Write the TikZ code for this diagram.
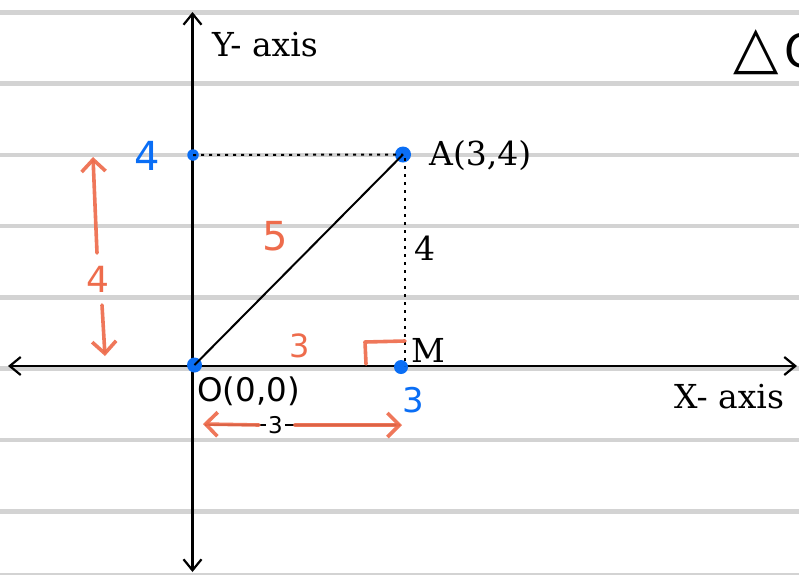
\documentclass[tikz,border=0pt]{standalone}
\usepackage{fontspec}
\setmainfont{DejaVu Serif}
\newfontfamily\sansf{DejaVu Sans}
\usetikzlibrary{arrows.meta}
\definecolor{rulegray}{RGB}{211,211,211}
\definecolor{pblue}{RGB}{10,110,245}
\definecolor{porange}{RGB}{238,108,76}
\tikzset{
  ruleline/.style={rulegray, line width=4.5pt},
  axisline/.style={black, line width=2.2pt, {Straight Barb[length=11pt,width=18pt]}-{Straight Barb[length=11pt,width=18pt]}},
  dotline/.style={black, line width=2pt, dash pattern=on 3pt off 5pt},
  bluedot/.style={circle, fill=pblue, inner sep=0pt, minimum size=#1},
  lbl/.style={inner sep=0pt, anchor=base west, font=\fontsize{33}{38}\selectfont},
  sanslbl/.style={inner sep=0pt, anchor=base west, font=\sansf\fontsize{32.5}{38}\selectfont},
  hand/.style={inner sep=0pt, anchor=base west, font=\sansf\fontsize{#1}{#1}\selectfont},
  penstroke/.style={porange, line width=3.6pt, line cap=round, line join=round, opacity=0.92},
  penarrow/.style={penstroke, -{Straight Barb[length=12pt,width=24pt]}}
}
\begin{document}
\begin{tikzpicture}[x=1pt,y=-1pt]
\useasboundingbox (0,0) rectangle (799,574);
\clip (0,0) rectangle (799,574);
\fill[white] (0,0) rectangle (799,574);
% ruled paper lines
\foreach \yy in {12.5,83.5,155,226,297.5,368.5,440,511.5,575}
  \draw[ruleline] (0,\yy) -- (799,\yy);
% axes
\coordinate (xl) at (8,366);
\coordinate (xr) at (797,366);
\coordinate (yt) at (192.5,12);
\coordinate (yb) at (192.5,572);
\draw[axisline] (xl) -- (xr);
\draw[axisline] (yt) -- (yb);
% points
\node[bluedot=15pt] (O) at (194.5,365) {};
\node[bluedot=16pt] (A) at (403,154.5) {};
\node[bluedot=11.5pt] (Y4) at (193,155) {};
\node[bluedot=14pt] (M) at (401,367) {};
\coordinate (Atop) at (405,158);
\coordinate (Mtop) at (405,366);
% lines
\draw[dotline] (Y4.center) -- (A.center);
\draw[dotline] (Atop) -- (Mtop);
\draw[black, line width=2pt] (O.center) -- (A.center);
% labels
\node[lbl] (ylab) at (212,56) {Y- axis};
\node[lbl] (alab) at (429,165) {A(3,4)};
\node[lbl] (four) at (414,260) {4};
\node[lbl] (mlab) at (411,362) {M};
\node[sanslbl] (olab) at (197,401) {O(0,0)};
\node[lbl] (xlab) at (674,408) {X- axis};
% top-right title (clipped by the picture edge, as in the reference)
\node[inner sep=0pt, anchor=base west, font=\sansf\fontsize{59}{60}\selectfont] (tri) at (733,67) {△};
\node[inner sep=0pt, anchor=base west, font=\sansf\fontsize{46}{50}\selectfont] (tO) at (784,67) {O};
% bottom measure arrow
\coordinate (bl) at (205,425);
\coordinate (br) at (400,425);
\draw[black, line width=1.4pt] (bl) -- (br) node[midway, xshift=-27pt, fill=white, inner sep=2pt, font=\sansf\fontsize{23}{26}\selectfont] (three) {3};
% hand-drawn annotations
\coordinate (l1) at (259,425);
\coordinate (l2) at (203,424);
\coordinate (r1) at (295,425);
\coordinate (r2) at (402,425);
\draw[penarrow] (l1) -- (l2);
\draw[penarrow] (r1) -- (r2);
\coordinate (u1) at (97,253);
\coordinate (u2) at (93,157);
\coordinate (d1) at (102,305);
\coordinate (d2) at (105,356);
\draw[penarrow] (u1) -- (u2);
\draw[penarrow] (d1) -- (d2);
\coordinate (ra1) at (366,364);
\coordinate (ra2) at (365,342);
\coordinate (ra3) at (405,341);
\draw[penstroke] (ra1) -- (ra2) -- (ra3);
\node[hand=36, porange] (h4) at (86,292) {4};
\node[hand=40, porange] (h5) at (262,250) {5};
\node[hand=32, porange] (h3) at (289,357) {3};
\node[hand=40, pblue] (b4) at (134,170) {4};
\node[hand=34, pblue] (b3) at (402,412) {3};
\end{tikzpicture}
\end{document}
